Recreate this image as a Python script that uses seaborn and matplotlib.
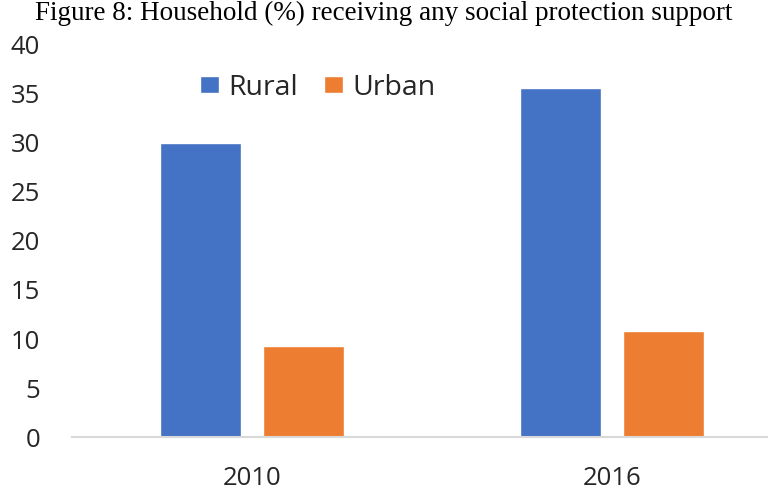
import matplotlib
matplotlib.use('Agg')
import matplotlib.pyplot as plt
import seaborn as sns
import pandas as pd

# ── Data ─────────────────────────────────────────────────────────────────────
years  = ['2010', '2016']
rural  = [30.0, 35.6]
urban  = [9.3, 10.8]
series = ['Rural', 'Urban']
colors = ['#4472C4', '#ED7D31']

df = pd.DataFrame({
    'year':  years * 2,
    'area':  [series[0]] * len(years) + [series[1]] * len(years),
    'value': rural + urban,
})

# ── Plot ─────────────────────────────────────────────────────────────────────
sns.set_theme(style='white')
plt.rcParams['font.family'] = ['Open Sans', 'DejaVu Sans']

fig = plt.figure(figsize=(7.68, 4.94), dpi=100)
ax = fig.add_axes([0.094, 0.115, 0.906, 0.795])

sns.barplot(data=df, x='year', y='value', hue='area', palette=colors,
            width=0.57, gap=0.21, saturation=1, ax=ax)

ax.set_xlim(-0.5, 1.433)
ax.set_ylim(0, 40)
ax.set_yticks(range(0, 41, 5))
ax.set_xlabel(''); ax.set_ylabel('')
for s in ['top', 'right', 'left']:
    ax.spines[s].set_visible(False)
ax.spines['bottom'].set_color('#D9D9D9')
ax.spines['bottom'].set_linewidth(1.5)
ax.tick_params(axis='y', length=0, pad=23, labelsize=18.5, labelcolor='#262626')
ax.tick_params(axis='x', length=0, pad=21, labelsize=18.5, labelcolor='#262626')

ax.legend(loc='center left', bbox_to_anchor=(0.184, 0.89), ncol=2, frameon=False,
          fontsize=20.5, borderaxespad=0, borderpad=0,
          handlelength=0.65, handleheight=0.55, handletextpad=0.35,
          columnspacing=0.9, labelcolor='#262626')

fig.text(0.5, 0.999, 'Figure 8: Household (%) receiving any social protection support',
         ha='center', va='top', fontsize=19.5, family='Liberation Serif', color='black')

fig.savefig('out.png', dpi=100)
